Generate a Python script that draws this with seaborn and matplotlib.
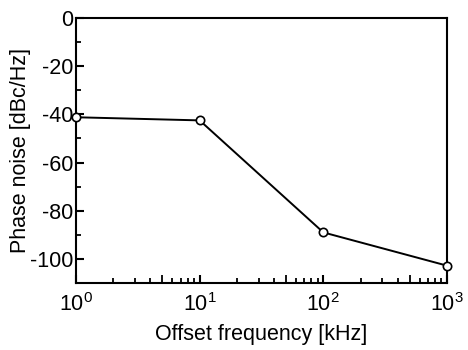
import matplotlib
matplotlib.use("Agg")
import matplotlib.pyplot as plt
import seaborn as sns
import pandas as pd
from matplotlib.ticker import LogLocator, MultipleLocator, FixedLocator, NullFormatter

# Phase noise versus offset frequency
offset_khz = [1, 10, 100, 1000]
phase_noise_dbc = [-41.2, -42.5, -89.0, -102.8]

sns.set_style("ticks")
plt.rcParams["font.family"] = ["Liberation Sans", "DejaVu Sans"]
plt.rcParams["mathtext.fontset"] = "custom"
plt.rcParams["mathtext.rm"] = "Liberation Sans"
plt.rcParams["mathtext.it"] = "Liberation Sans"
plt.rcParams["mathtext.default"] = "regular"
plt.rcParams["axes.unicode_minus"] = False
plt.rcParams["text.color"] = "black"
plt.rcParams["axes.labelcolor"] = "black"

df = pd.DataFrame({"offset": offset_khz, "noise": phase_noise_dbc})

fig = plt.figure(figsize=(4.68, 3.5), dpi=100)
ax = fig.add_axes([76 / 468, 1 - 283 / 350, (447 - 76) / 468, (283 - 18) / 350])

sns.lineplot(data=df, x="offset", y="noise", ax=ax, color="black", linewidth=1.4,
             marker="o", markersize=6, markerfacecolor="white",
             markeredgecolor="black", markeredgewidth=1.2, clip_on=False, zorder=5)

ax.set_xscale("log")
ax.set_xlim(1, 1000)
ax.set_ylim(-110, 0)

ax.xaxis.set_major_locator(LogLocator(base=10, numticks=10))
ax.xaxis.set_minor_locator(LogLocator(base=10, subs=[2, 3, 4, 6, 7, 8, 9], numticks=20))
ax.xaxis.set_minor_formatter(NullFormatter())
ax.yaxis.set_major_locator(MultipleLocator(20))
ax.yaxis.set_minor_locator(MultipleLocator(10))

for s in ax.spines.values():
    s.set_linewidth(1.5)
    s.set_color("black")

ax.tick_params(axis="both", which="major", direction="in", length=6, width=1.5,
               labelsize=15.5, colors="black", top=False, right=False)
ax.tick_params(axis="x", which="major", pad=7)
ax.tick_params(axis="y", which="major", pad=2)
ax.tick_params(axis="both", which="minor", direction="in", length=3.5, width=1.3,
               colors="black", top=False, right=False)

# Medium-length ticks at the half-decade (5, 50, 500)
sec = ax.secondary_xaxis("bottom")
sec.xaxis.set_major_locator(FixedLocator([5, 50, 500]))
sec.xaxis.set_major_formatter(NullFormatter())
sec.xaxis.set_minor_locator(FixedLocator([]))
sec.tick_params(direction="in", length=5.5, width=1.3, colors="black")
sec.spines["bottom"].set_visible(False)

ax.set_xlabel("Offset frequency [kHz]", fontsize=15.5, labelpad=6, color="black")
ax.set_ylabel("Phase noise [dBc/Hz]", fontsize=15.5, labelpad=-1, color="black")

fig.savefig("out.png", dpi=100)
